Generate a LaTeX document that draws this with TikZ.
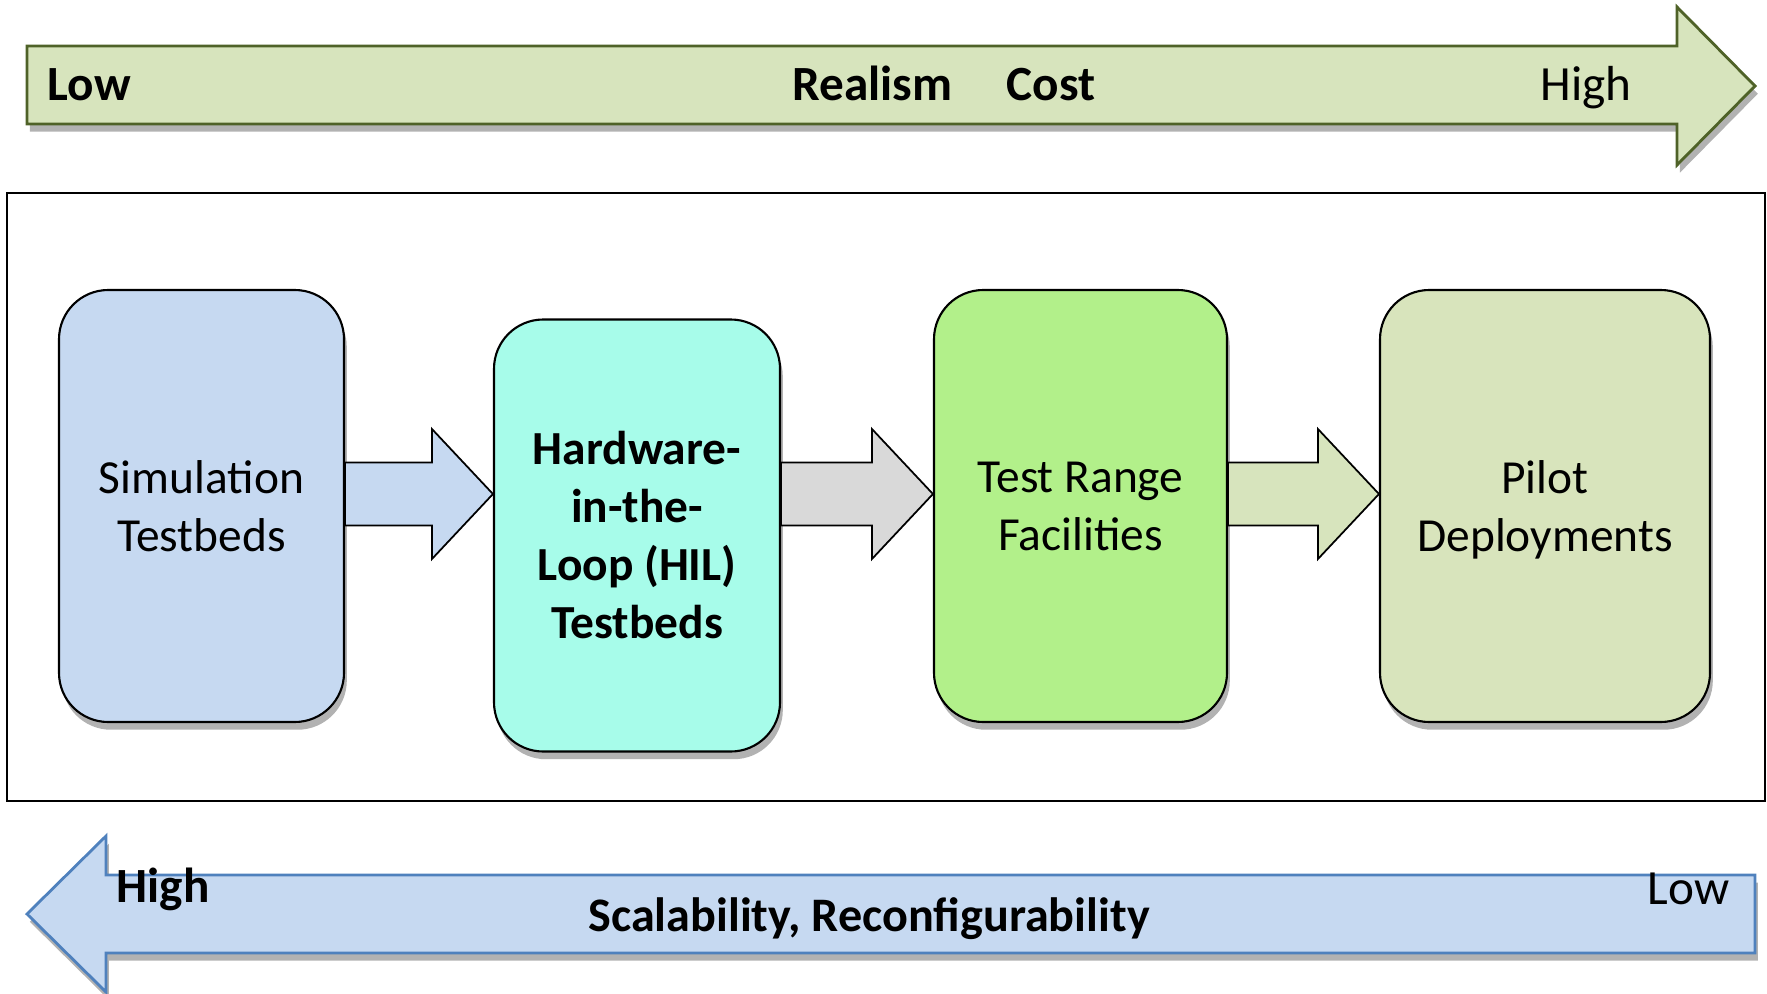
\documentclass[tikz,border=0pt]{standalone}
\usepackage{fontspec}
\setmainfont{Carlito}
\usetikzlibrary{calc, shadows}

\definecolor{simblue}{HTML}{C6D9F1}
\definecolor{hilcyan}{HTML}{A7FCEA}
\definecolor{rangegreen}{HTML}{B2F08A}
\definecolor{pilotolive}{HTML}{D8E4BC}
\definecolor{linkgray}{HTML}{D9D9D9}
\definecolor{realfill}{HTML}{D7E4BD}
\definecolor{realline}{HTML}{4F6228}
\definecolor{scalefill}{HTML}{C6D9F1}
\definecolor{scaleline}{HTML}{4F81BD}

\tikzset{
    softshadow/.style={drop shadow={shadow xshift=0.8pt, shadow yshift=-2.2pt, opacity=0.3, fill=black}},
    stagebox/.style={draw=black, line width=0.6pt, rounded corners=14pt, align=center,
        inner sep=0pt, minimum height=4.32cm, softshadow,
        font=\fontsize{13.5}{16.5}\selectfont},
    axislabel/.style={inner sep=0pt, font=\fontsize{14}{17}\selectfont},
    link/.style={draw=black, line width=0.5pt, line join=miter},
}

% block arrow between two stages, along the row coordinate
\newcommand{\stagelink}[3]{%
    \draw[link, fill=#3] let \p1=(#1.east |- row), \p2=(#2.west |- row) in
        (\x1,\y1+3.15mm) -- (\x2-6.1mm,\y1+3.15mm) -- (\x2-6.1mm,\y1+6.5mm)
        -- (\p2) -- (\x2-6.1mm,\y1-6.5mm) -- (\x2-6.1mm,\y1-3.15mm)
        -- (\x1,\y1-3.15mm) -- cycle;
}

\begin{document}
\begin{tikzpicture}
    \useasboundingbox (0,0) rectangle (17.67,-9.93);

    % Realism / cost arrow
    \draw[line width=0.8pt, draw=realline, fill=realfill, softshadow]
        (0.27,-0.46)
        -- (16.77,-0.46)
        -- (16.77,-0.07)
        -- (17.55,-0.86)
        -- (16.77,-1.65)
        -- (16.77,-1.24)
        -- (0.27,-1.24)
        -- cycle;
    \node[axislabel, font=\fontsize{14}{17}\selectfont\bfseries, anchor=base west] (reallow) at (0.47,-1.0) {Low};
    \node[axislabel, font=\fontsize{14}{17}\selectfont\bfseries, anchor=base west] (realism) at (7.92,-1.0) {Realism};
    \node[axislabel, font=\fontsize{14}{17}\selectfont\bfseries, anchor=base west] (cost) at (10.06,-1.0) {Cost};
    \node[axislabel, anchor=base east] (realhigh) at (16.32,-1.0) {High};

    % Frame
    \draw[line width=0.7pt] (0.07,-1.93) rectangle (17.65,-8.01);

    % Stages
    \node[stagebox, fill=simblue, minimum width=2.85cm] (sim) at (2.015,-5.06)
        {Simulation\\Testbeds};
    \node[stagebox, fill=hilcyan, minimum width=2.86cm, font=\fontsize{13.5}{16.5}\selectfont\bfseries] (hil) at (6.37,-5.355)
        {Hardware-\\in-the-\\Loop (HIL)\\Testbeds};
    \node[stagebox, fill=rangegreen, minimum width=2.93cm] (range) at (10.805,-5.06)
        {Test Range\\Facilities};
    \node[stagebox, fill=pilotolive, minimum width=3.30cm] (pilot) at (15.45,-5.06)
        {Pilot\\\smash{Deployments}};

    % Links
    \coordinate (row) at (0,-4.94);
    \stagelink{sim}{hil}{simblue}
    \stagelink{hil}{range}{linkgray}
    \stagelink{range}{pilot}{realfill}

    % Scalability arrow
    \draw[line width=0.8pt, draw=scaleline, fill=scalefill, softshadow]
        (17.55,-8.75)
        -- (1.06,-8.75)
        -- (1.06,-8.36)
        -- (0.27,-9.14)
        -- (1.06,-9.92)
        -- (1.06,-9.53)
        -- (17.55,-9.53)
        -- cycle;
    \node[axislabel, font=\fontsize{14}{17}\selectfont\bfseries, anchor=base west] (scalehigh) at (1.16,-9.02) {High};
    \node[axislabel, font=\fontsize{13.7}{17}\selectfont\bfseries, anchor=base] (scalability) at (8.69,-9.31) {Scalability, Reconfigurability};
    \node[axislabel, anchor=base east] (scalelow) at (17.3,-9.04) {Low};
\end{tikzpicture}
\end{document}
